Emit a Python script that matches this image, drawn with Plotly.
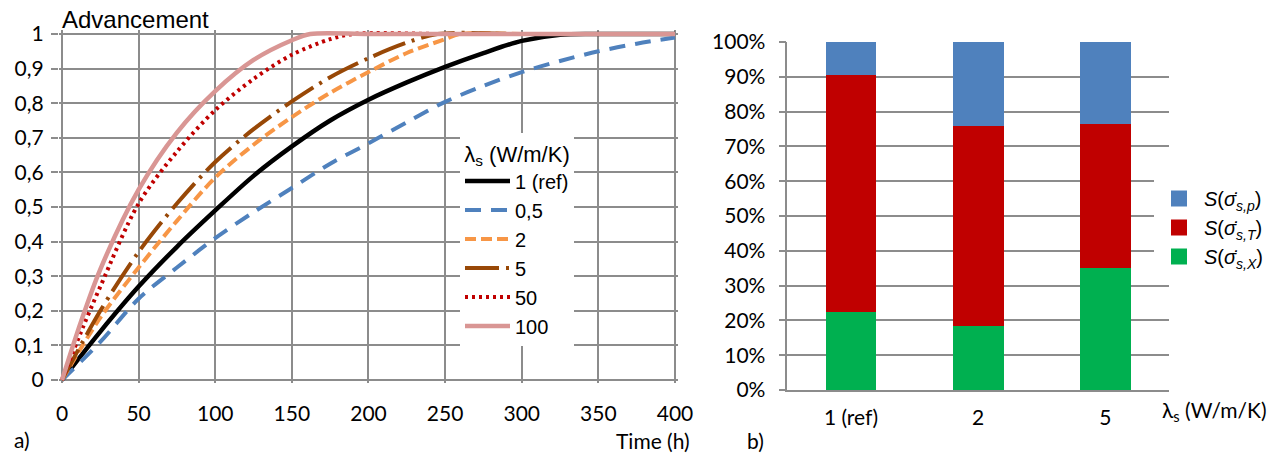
import plotly.graph_objects as go

# ---------------- data : left chart (advancement vs time) ----------------
t_ref = [0, 25, 50, 75, 100, 125, 150, 175, 200, 225, 250, 275, 300, 325, 350, 375, 400]
v_ref = [0, 0.14, 0.27, 0.385, 0.49, 0.59, 0.675, 0.75, 0.81, 0.86, 0.905, 0.945, 0.98, 0.998, 1, 1, 1]

t_05 = [0, 25, 50, 75, 100, 125, 150, 175, 200, 225, 250, 275, 300, 325, 350, 375, 400]
v_05 = [0, 0.11, 0.235, 0.325, 0.41, 0.485, 0.555, 0.625, 0.684, 0.745, 0.804, 0.85, 0.89, 0.922, 0.95, 0.972, 0.99]

t_2 = [0, 25, 50, 75, 100, 125, 150, 175, 200, 225, 250, 260, 300, 350, 400]
v_2 = [0, 0.18, 0.325, 0.46, 0.585, 0.68, 0.76, 0.83, 0.89, 0.945, 0.985, 1, 1, 1, 1]

t_5 = [0, 25, 50, 75, 100, 125, 150, 175, 200, 225, 245, 300, 350, 400]
v_5 = [0, 0.2, 0.37, 0.51, 0.63, 0.725, 0.805, 0.875, 0.93, 0.975, 1, 1, 1, 1]

t_50 = [0, 12.5, 25, 50, 75, 100, 125, 150, 175, 190, 250, 300, 350, 400]
v_50 = [0, 0.14, 0.27, 0.51, 0.66, 0.78, 0.87, 0.94, 0.985, 1, 1, 1, 1, 1]

t_100 = [0, 12.5, 25, 50, 75, 100, 125, 150, 162, 200, 250, 300, 350, 400]
v_100 = [0, 0.17, 0.32, 0.55, 0.715, 0.835, 0.925, 0.982, 1, 1, 1, 1, 1, 1]

series_names = ["1 (ref)", "0,5", "2", "5", "50", "100"]

# ---------------- data : right chart (stacked shares) ----------------
categories = ["1 (ref)", "2", "5"]
share_X = [0.223, 0.184, 0.351]
share_T = [0.681, 0.574, 0.414]
share_p = [0.096, 0.242, 0.235]
bar_names = ["<i>S</i>(<i>σ̇</i><sub><i>s,X</i></sub>)",
             "<i>S</i>(<i>σ̇</i><sub><i>s,T</i></sub>)",
             "<i>S</i>(<i>σ̇</i><sub><i>s,p</i></sub>)"]

W, H = 1283, 457
GRID = "#8c8c8c"
TICKFONT = dict(family="Lato", size=21, color="black")


def px_x(p):
    return p / W


def px_y(p):
    return 1 - p / H


fig = go.Figure()

styles = [
    (t_ref, v_ref, "#000000", "solid", 4.5),
    (t_05, v_05, "#4F81BD", "16px,10px", 4),
    (t_2, v_2, "#F79646", "11px,5px", 4),
    (t_5, v_5, "#984807", "34px,7px,3px,7px", 4),
    (t_50, v_50, "#C00000", "3px,4px", 4),
    (t_100, v_100, "#D99694", "solid", 4.5),
]
for name, (tx, vy, col, dash, w) in zip(series_names, styles):
    fig.add_trace(go.Scatter(
        x=tx, y=vy, name=name, mode="lines",
        line=dict(color=col, dash=dash, width=w, shape="spline", smoothing=0.9),
        xaxis="x", yaxis="y", legend="legend",
    ))

bar_cols = ["#00B050", "#C00000", "#4F81BD"]
for name, vals, col in zip(bar_names, [share_X, share_T, share_p], bar_cols):
    fig.add_trace(go.Bar(
        x=categories, y=vals, name=name, marker=dict(color=col, line=dict(width=0)),
        xaxis="x2", yaxis="y2", showlegend=False,
    ))
# legend keys for the bar series (larger square swatches, as in the reference)
for name, col in reversed(list(zip(bar_names, bar_cols))):
    fig.add_trace(go.Scatter(
        x=[None], y=[None], name=name, mode="markers",
        marker=dict(symbol="square", size=16, color=col),
        xaxis="x2", yaxis="y2", legend="legend2", hoverinfo="skip",
    ))

# left axes: 0 -> px 62, 400 -> px 675 ; 1 -> px 34, 0 -> px 380
xs = (675 - 62) / 400.0
x_lo, x_hi = -2, 402
ys = (380 - 34) / 1.0
y_lo, y_hi = -0.01, 1.012

fig.update_layout(
    width=W, height=H,
    margin=dict(l=0, r=0, t=0, b=0, autoexpand=False),
    paper_bgcolor="white", plot_bgcolor="white",
    separators=", ",
    barmode="stack", bargap=0.6,
    xaxis=dict(
        domain=[px_x(62 + x_lo * xs), px_x(62 + x_hi * xs)],
        range=[x_lo, x_hi], tick0=0, dtick=50,
        showgrid=True, gridcolor=GRID, gridwidth=1.5,
        zeroline=True, zerolinecolor=GRID, zerolinewidth=1.5,
        showline=False, ticks="", ticklabelstandoff=16, automargin=False,
        tickfont=TICKFONT, anchor="y",
    ),
    yaxis=dict(
        domain=[px_y(380 - y_lo * ys), px_y(380 - y_hi * ys)],
        range=[y_lo, y_hi], tick0=0, dtick=0.1,
        showgrid=True, gridcolor=GRID, gridwidth=1.5,
        zeroline=True, zerolinecolor=GRID, zerolinewidth=1.5,
        showline=False, ticks="outside", ticklen=7, tickcolor=GRID, tickwidth=1.5,
        ticklabelstandoff=3, automargin=False,
        tickfont=TICKFONT, anchor="x",
    ),
    xaxis2=dict(
        domain=[px_x(787.4), px_x(1169)],
        showgrid=False, showline=True, linecolor=GRID, linewidth=1.5,
        ticks="", ticklabelstandoff=8, automargin=False,
        tickfont=TICKFONT, anchor="y2",
    ),
    yaxis2=dict(
        domain=[px_y(390), px_y(42)],
        range=[0, 1], dtick=0.1, tickformat=".0%",
        showgrid=True, gridcolor=GRID, gridwidth=1.5,
        zeroline=False, showline=True, linecolor=GRID, linewidth=1.5,
        ticks="outside", ticklen=7, tickcolor=GRID, tickwidth=1.5,
        ticklabelstandoff=9, automargin=False,
        tickfont=TICKFONT, anchor="x2",
    ),
    legend=dict(
        x=px_x(460), y=px_y(133), xanchor="left", yanchor="top",
        bgcolor="white", borderwidth=0, traceorder="normal",
        font=dict(family="Liberation Sans", size=20, color="black"),
        title=dict(text="λ<sub>s</sub> (W/m/K)", side="top center",
                   font=dict(family="Liberation Sans", size=22, color="black")),
        itemwidth=45, tracegroupgap=0,
    ),
    legend2=dict(
        x=px_x(1154), y=px_y(179), xanchor="left", yanchor="top",
        bgcolor="white", borderwidth=0, traceorder="normal",
        font=dict(family="Liberation Sans", size=20, color="black"),
        itemwidth=40, tracegroupgap=0,
    ),
    showlegend=True,
)

annots = [
    dict(text="Advancement", x=px_x(60), y=px_y(19), xanchor="left", yanchor="middle",
         font=dict(family="Liberation Sans", size=24, color="black")),
    dict(text="Time (h)", x=px_x(692), y=px_y(440), xanchor="right", yanchor="middle",
         font=dict(family="Lato", size=21, color="black")),
    dict(text="a)", x=px_x(12), y=px_y(439), xanchor="left", yanchor="middle",
         font=dict(family="Lato", size=21, color="black")),
    dict(text="b)", x=px_x(745), y=px_y(440), xanchor="left", yanchor="middle",
         font=dict(family="Lato", size=21, color="black")),
    dict(text="λ<sub>s</sub> (W/m/K)", x=px_x(1160), y=px_y(411), xanchor="left", yanchor="middle",
         font=dict(family="Lato", size=21, color="black")),
]
for a in annots:
    fig.add_annotation(xref="paper", yref="paper", showarrow=False, **a)

# remove the default 8px page margin so the figure sits at the window origin
fig.write_html("out.html", config={"displayModeBar": False},
               post_script="document.body.style.margin='0';document.body.style.overflow='hidden';")
